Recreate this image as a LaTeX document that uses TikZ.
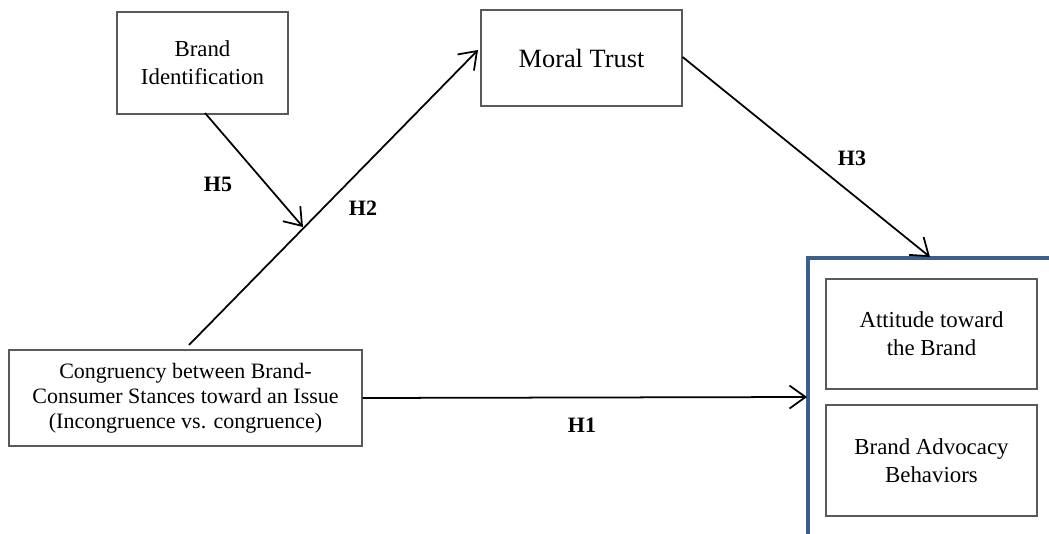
\documentclass[tikz,border=0pt]{standalone}
\usepackage{fontspec}
\setmainfont{Liberation Serif}
\usepackage{tikz}
\usetikzlibrary{arrows.meta}

\definecolor{framegray}{RGB}{90,90,90}
\definecolor{outerblue}{RGB}{60,96,142}

\tikzset{
  varbox/.style={draw=framegray, line width=0.7pt, align=center, inner sep=0pt},
  hlabel/.style={font=\fontsize{12.5}{14}\selectfont\bfseries},
  hpath/.style={line width=1pt, -{Straight Barb[length=3.2mm, width=4.6mm, line width=1pt]}}
}

\begin{document}
\begin{tikzpicture}[x=0.02cm, y=-0.02cm]
        \useasboundingbox (0,0) rectangle (1049,534);

        % Les variables
        \node[varbox, minimum width=3.42cm, minimum height=2.04cm,
              font=\fontsize{13}{16}\selectfont] (ident) at (202.5,63)
              {Brand\\Identification};
        \node[varbox, minimum width=4.02cm, minimum height=1.92cm,
              font=\fontsize{15}{18}\selectfont] (trust) at (581.5,58)
              {Moral Trust};
        \node[varbox, minimum width=7.06cm, minimum height=1.92cm,
              font=\fontsize{12.5}{14.2}\selectfont] (congr) at (185.5,398)
              {Congruency between Brand-\\Consumer Stances toward an Issue\\(Incongruence vs. congruence)};

        % Le cadre des resultats
        \coordinate (outer) at (808,258);
        \draw[outerblue, line width=1.9pt] (808,540) -- (outer) -- (1055,258);
        \node[varbox, minimum width=4.22cm, minimum height=2.2cm,
              font=\fontsize{13}{16}\selectfont] (attitude) at (931.5,334)
              {Attitude toward\\the Brand};
        \node[varbox, minimum width=4.22cm, minimum height=2.22cm,
              font=\fontsize{13}{16}\selectfont] (advocacy) at (931.5,460.5)
              {Brand Advocacy\\Behaviors};
        \coordinate (outtop) at (930,257);
        \coordinate (outleft) at (807,397);

        % Les hypotheses
        \coordinate (h2start) at (189,345);
        \coordinate (h2end) at (478,50);
        \coordinate (modpt) at (303,227);
        \draw[hpath] (h2start) -- (h2end);
        \draw[hpath] (205,113) -- (modpt);
        \draw[hpath] (trust.east) ++(0,-1) -- (outtop);
        \draw[hpath] (congr.east) -- (outleft);

        \node[hlabel] (h5) at (218,184) {H5};
        \node[hlabel] (h2) at (363,208) {H2};
        \node[hlabel] (h3) at (852,158) {H3};
        \node[hlabel] (h1) at (582,425) {H1};
    \end{tikzpicture}
\end{document}
